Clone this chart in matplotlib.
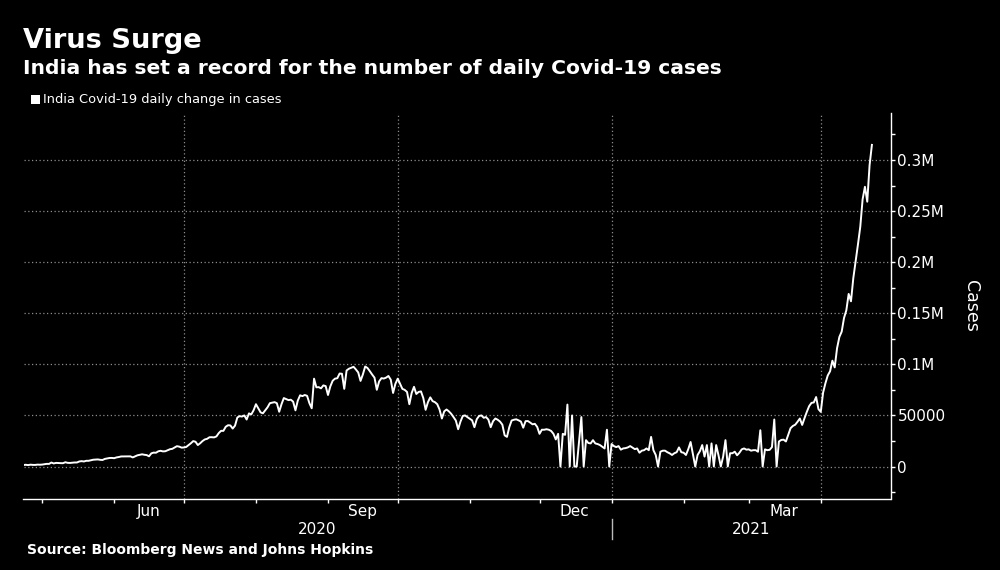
import matplotlib
matplotlib.use("Agg")
import matplotlib.pyplot as plt
import matplotlib.transforms as mtransforms
from matplotlib.patches import Rectangle
import numpy as np
import pandas as pd

# ---------------- data (daily new cases, India) ----------------
apr_2020 = [1500, 1700, 1400, 1800, 1600, 1550, 1850, 1750]  # Apr 23-30
may_2020 = [1900, 2300, 2600, 2550, 3900, 3000, 3550, 3400, 3300, 3250, 4200, 3600, 3500, 3700, 3950, 3950,
            4950, 5250, 4950, 5600, 5600, 6100, 6650, 6750, 6950, 6550, 6400, 7450, 7950, 8350, 8400]
jun_2020 = [8150, 8900, 9300, 9850, 9900, 9950, 10000, 9950, 8900, 9950, 10950, 11450, 11950, 11500, 11200,
            10000, 12900, 13600, 13500, 14900, 15400, 14800, 14950, 15950, 16900, 17300, 18550, 19900, 19450, 18500]
jul_2020 = [18650, 19150, 20900, 22750, 24850, 24250, 21000, 22750, 24900, 26500, 27100, 28650, 28700, 28500,
            29450, 32700, 34950, 34900, 38900, 40400, 40200, 37150, 40000, 48000, 49300, 48900, 50000, 46000,
            52000, 51000, 55100]
aug_2020 = [61000, 57000, 53000, 52050, 55000, 58000, 62000, 62500, 63000, 62000, 53600, 61000, 67000, 66000,
            65000, 65400, 63500, 55000, 64500, 69700, 68900, 70000, 69200, 62000, 57000, 86000, 77500, 77700,
            76500, 79400, 78700]
sep_2020 = [70000, 78400, 83900, 86000, 86400, 91000, 90800, 76000, 94000, 95700, 96600, 97600, 95000, 92100,
            83800, 90100, 97900, 96400, 93300, 90000, 87000, 75100, 83300, 86500, 86100, 87000, 88600, 85000,
            72000, 81000]
oct_2020 = [86000, 81000, 76000, 75000, 73000, 61000, 72000, 78000, 71000, 73000, 73500, 67000, 55500, 63000,
            67700, 64000, 63000, 61000, 55700, 47000, 54000, 55800, 54000, 51600, 48400, 45000, 36500, 44000,
            49500, 50000, 48300]
nov_2020 = [46800, 45200, 38500, 46300, 49500, 50000, 47700, 48400, 45900, 38500, 44300, 47000, 45800, 44000,
            41000, 30500, 29000, 38600, 45000, 45800, 46200, 45200, 44000, 38000, 44400, 44500, 43000, 41300,
            41800, 38800]
dec_2020 = [32000, 36000, 36000, 36500, 36000, 34800, 32000, 26500, 32000, 0, 32000, 31000, 60600, 0, 50000,
            0, 0, 24000, 48400, 0, 25800, 23000, 22600, 25800, 22600, 22000, 21000, 19400, 17700, 36000, 0]
jan_2021 = [22000, 20000, 19000, 20000, 16500, 17700, 18000, 18700, 20000, 18500, 17000, 17700, 13500, 15500,
            16000, 17700, 16000, 29000, 16000, 11300, 0, 14500, 15500, 15500, 14000, 12900, 11300, 13000, 14000,
            18700, 14000]
feb_2021 = [13500, 11300, 17000, 24000, 12000, 0, 11300, 15000, 21000, 9700, 21000, 0, 22600, 0, 21000, 11000,
            0, 9700, 25800, 0, 13000, 13000, 14500, 11000, 13500, 16800, 17700, 16500]
mar_2021 = [16800, 15500, 16000, 16000, 14500, 35500, 0, 16800, 16000, 16300, 19000, 46000, 0, 24500, 26000,
            26300, 24500, 31000, 37500, 39700, 40900, 43800, 47000, 40700, 47300, 53500, 59100, 62300, 62700,
            68000, 56200]
apr_2021 = [53500, 72300, 81500, 89100, 93200, 103600, 97000, 115700, 126800, 132000, 145400, 152900, 168900,
            161700, 184400, 200700, 217400, 234700, 261500, 273800, 259200, 295000, 314800]

start_date = "2020-04-23"
series_label = "India Covid-19 daily change in cases"
y_ticks = [0, 50000, 100000, 150000, 200000, 250000, 300000]
y_tick_labels = ["0", "50000", "0.1M", "0.15M", "0.2M", "0.25M", "0.3M"]
month_label_dates = ["2020-06-16", "2020-09-16", "2020-12-16", "2021-03-16"]
month_labels = ["Jun", "Sep", "Dec", "Mar"]
years = ["2020", "2021"]
title = "Virus Surge"
subtitle = "India has set a record for the number of daily Covid-19 cases"
y_label = "Cases"
source = "Source: Bloomberg News and Johns Hopkins"

cases = np.array(apr_2020 + may_2020 + jun_2020 + jul_2020 + aug_2020 + sep_2020 + oct_2020 + nov_2020 +
                 dec_2020 + jan_2021 + feb_2021 + mar_2021 + apr_2021, dtype=float)
dates = pd.date_range(start_date, periods=len(cases), freq="D")

# ---------------- figure ----------------
W, H = 1000, 570
fig = plt.figure(figsize=(W / 100, H / 100), dpi=100, facecolor="black")

def fx(px):
    return px / W

def fy(py):
    return 1 - py / H

ax_left, ax_right, ax_top, ax_bottom = 23.5, 890.5, 113, 498.5
ax = fig.add_axes([fx(ax_left), fy(ax_bottom), fx(ax_right - ax_left), (ax_bottom - ax_top) / H])
ax.set_facecolor("black")

grid_kw = dict(color="#8c8c8c", linestyle=(0, (1, 2)), linewidth=0.9)

ax.plot(dates, cases, color="white", linewidth=1.4, solid_joinstyle="round", zorder=3)

x0 = pd.Timestamp("2020-04-23")
x1 = pd.Timestamp("2021-05-01")
ax.set_xlim(x0, x1)
ax.set_ylim(-31300, 346000)

# y axis on the right
ax.yaxis.tick_right()
ax.set_yticks(y_ticks)
ax.set_yticklabels(y_tick_labels)
ax.set_yticks(np.arange(-25000, 350000, 50000), minor=True)
ax.tick_params(axis="y", which="both", direction="out", length=3, width=1, colors="white",
               labelsize=11, pad=2)
ax.yaxis.grid(True, which="major", **grid_kw)

# x axis: month ticks, labels at quarter middles
month_starts = pd.date_range("2020-05-01", "2021-04-01", freq="MS")
ax.set_xticks(month_starts)
ax.set_xticklabels([""] * len(month_starts))
ax.set_xticks(pd.to_datetime(month_label_dates), minor=True)
ax.set_xticklabels(month_labels, minor=True)
ax.tick_params(axis="x", which="major", direction="out", length=3, width=1, colors="white")
ax.tick_params(axis="x", which="minor", length=0, colors="white", labelsize=11, pad=4)

for q in pd.date_range("2020-07-01", "2021-04-01", freq="QS"):
    ax.axvline(q, zorder=1, **grid_kw)

for side in ["left", "top"]:
    ax.spines[side].set_visible(False)
for side in ["right", "bottom"]:
    ax.spines[side].set_color("white")
    ax.spines[side].set_linewidth(1.0)

# year labels and separator
trans = mtransforms.blended_transform_factory(ax.transData, ax.transAxes)
year_bounds = [x0, pd.Timestamp("2021-01-01"), x1]
for i, yr in enumerate(years):
    mid = year_bounds[i] + (year_bounds[i + 1] - year_bounds[i]) / 2
    ax.text(mid, (ax_bottom - 530) / (ax_bottom - ax_top), yr, transform=trans, ha="center", va="center",
            color="white", fontsize=11)
ax.plot([year_bounds[1], year_bounds[1]],
        [(ax_bottom - 519) / (ax_bottom - ax_top), (ax_bottom - 539) / (ax_bottom - ax_top)],
        transform=trans, clip_on=False, color="#bbbbbb", linewidth=1.0)

# y label
fig.text(fx(971), fy(305.5), y_label, rotation=270, ha="center", va="center", color="white", fontsize=12.5)

# titles
fig.text(fx(23), fy(48.3), title, ha="left", va="baseline", color="white", fontsize=19.6, fontweight="bold")
fig.text(fx(23), fy(74), subtitle, ha="left", va="baseline", color="white", fontsize=14.6, fontweight="bold")

# legend
fig.patches.append(Rectangle((fx(31), fy(103.5)), fx(8.5), 8.5 / H, transform=fig.transFigure,
                             facecolor="white", edgecolor="none"))
fig.text(fx(43), fy(99.5), series_label, ha="left", va="center", color="white", fontsize=9.4)

# source
fig.text(fx(27), fy(550), source, ha="left", va="center", color="white", fontsize=10, fontweight="bold")

fig.savefig("out.png", dpi=100, facecolor="black")
